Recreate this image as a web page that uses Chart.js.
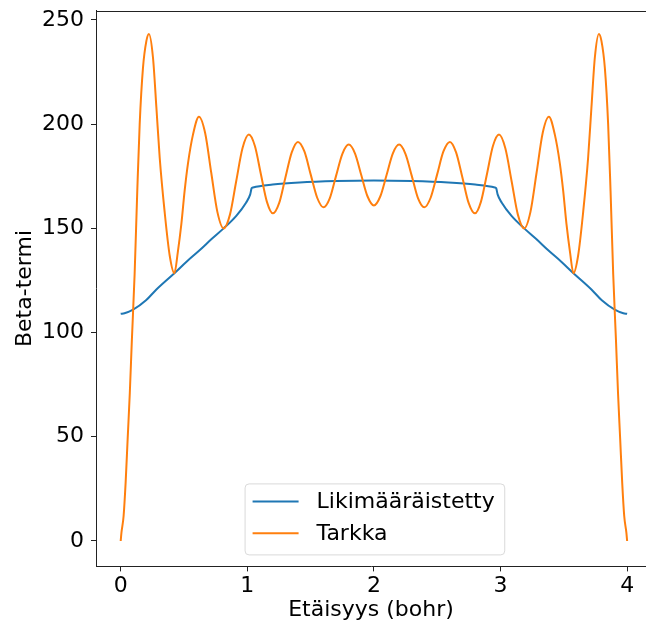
<!DOCTYPE html>
<html lang="fi">
<head>
<meta charset="UTF-8">
<title>Beta-termi</title>
<script src="https://cdn.jsdelivr.net/npm/chart.js"></script>
<style>
    html, body { margin: 0; padding: 0; background: #fff; overflow: hidden; }
</style>
</head>
<body>
<canvas id="myChart" width="646" height="630"></canvas>
<script>
// Likimääräistetty (blue)
const xApprox = [0.000, 0.030, 0.098, 0.200, 0.282, 0.424, 0.520, 0.623, 0.720, 0.813,
    0.913, 0.990, 1.023, 1.034, 1.045, 1.200, 1.412, 1.700, 2.000, 2.300,
    2.588, 2.800, 2.955, 2.966, 2.977, 3.010, 3.087, 3.187, 3.280, 3.377,
    3.480, 3.576, 3.718, 3.800, 3.902, 3.970, 4.000];
const yApprox = [109, 109.3, 111, 115.5, 120.7, 128.5, 134, 139.5, 145, 150,
    156, 162.3, 166.3, 169.2, 169.6, 171, 172, 172.7, 173, 172.7,
    172, 171, 169.6, 169.2, 166.3, 162.3, 156, 150, 145, 139.5,
    134, 128.5, 120.7, 115.5, 111, 109.3, 109];

// Tarkka (orange)
const xExact = [0.000, 0.006, 0.023, 0.039, 0.055, 0.072, 0.088, 0.110, 0.131, 0.150,
    0.176, 0.203, 0.223, 0.255, 0.282, 0.308, 0.347, 0.387, 0.424, 0.452,
    0.479, 0.505, 0.531, 0.571, 0.618, 0.667, 0.715, 0.764, 0.813, 0.863,
    0.912, 0.962, 1.012, 1.060, 1.107, 1.155, 1.202, 1.252, 1.301, 1.351,
    1.400, 1.451, 1.501, 1.552, 1.602, 1.652, 1.701, 1.751, 1.801, 1.851,
    1.900, 1.950, 2.000, 2.050, 2.100, 2.149, 2.199, 2.249, 2.299, 2.348,
    2.398, 2.448, 2.499, 2.549, 2.600, 2.649, 2.699, 2.748, 2.798, 2.845,
    2.893, 2.940, 2.988, 3.038, 3.088, 3.137, 3.187, 3.236, 3.285, 3.333,
    3.382, 3.429, 3.469, 3.495, 3.521, 3.548, 3.576, 3.613, 3.653, 3.692,
    3.718, 3.745, 3.777, 3.797, 3.824, 3.850, 3.869, 3.890, 3.912, 3.928,
    3.945, 3.961, 3.977, 3.994, 4.000];
const yExact = [0, 4, 12, 28, 49, 71, 96, 128, 168, 200,
    227, 240, 243.3, 232, 208, 184, 158, 137, 128.5, 139,
    152, 168, 181, 195, 203.6, 195.8, 176.8, 157.8, 150, 156.6,
    172.5, 188.4, 195, 189.5, 176.1, 162.7, 157.2, 162.2, 174.4, 186.5,
    191.5, 186.9, 175.8, 164.7, 160.1, 164.5, 175.2, 185.8, 190.2, 185.9,
    175.6, 165.3, 161, 165.3, 175.6, 185.9, 190.2, 185.8, 175.2, 164.5,
    160.1, 164.7, 175.8, 186.9, 191.5, 186.5, 174.4, 162.2, 157.2, 162.7,
    176.1, 189.5, 195, 188.4, 172.5, 156.6, 150, 157.8, 176.8, 195.8,
    203.6, 195, 181, 168, 152, 139, 128.5, 137, 158, 184,
    208, 232, 243.3, 240, 227, 200, 168, 128, 96, 71,
    49, 28, 12, 4, 0];

const seriesNames = ['Likimääräistetty', 'Tarkka'];
const xTicks = [0, 1, 2, 3, 4];
const yTicks = [0, 50, 100, 150, 200, 250];
const xTitle = 'Etäisyys (bohr)';
const yTitle = 'Beta-termi';

const FONT = 'DejaVu Sans';
const INK = '#222';

Chart.defaults.font.family = FONT;
Chart.defaults.color = '#000';

function toPoints(xs, ys) {
    return xs.map((x, i) => ({ x: x, y: ys[i] }));
}

// top spine (the right spine falls outside the picture)
const framePlugin = {
    id: 'frame',
    afterDraw(chart) {
        const { ctx, chartArea: a } = chart;
        ctx.save();
        ctx.strokeStyle = INK;
        ctx.lineWidth = 1;
        ctx.beginPath();
        const t = Math.round(a.top) + 0.5;
        ctx.moveTo(a.left, t);
        ctx.lineTo(a.right, t);
        ctx.stroke();
        ctx.restore();
    }
};

// matplotlib-like legend box inside the plot
const legendBox = {
    id: 'legendBox',
    afterDraw(chart) {
        const { ctx, chartArea: a } = chart;
        const sets = chart.data.datasets;
        const xs = chart.scales.x;
        ctx.save();
        ctx.font = '22px "' + FONT + '"';
        const textW = Math.max(...sets.map(d => ctx.measureText(d.label).width));
        const padL = 7.5, lineW = 46, gap = 18, padR = 10, rowH = 31.6, padT = 17.7;
        const w = padL + lineW + gap + textW + padR;
        const h = 71;
        const x0 = xs.getPixelForValue(2) + 1 - w / 2;
        const y0 = a.bottom - 11.5 - h;
        const rad = 4;
        ctx.beginPath();
        ctx.moveTo(x0 + rad, y0);
        ctx.lineTo(x0 + w - rad, y0);
        ctx.arcTo(x0 + w, y0, x0 + w, y0 + rad, rad);
        ctx.lineTo(x0 + w, y0 + h - rad);
        ctx.arcTo(x0 + w, y0 + h, x0 + w - rad, y0 + h, rad);
        ctx.lineTo(x0 + rad, y0 + h);
        ctx.arcTo(x0, y0 + h, x0, y0 + h - rad, rad);
        ctx.lineTo(x0, y0 + rad);
        ctx.arcTo(x0, y0, x0 + rad, y0, rad);
        ctx.closePath();
        ctx.fillStyle = 'rgba(255,255,255,0.8)';
        ctx.fill();
        ctx.strokeStyle = '#d9d9d9';
        ctx.lineWidth = 1;
        ctx.stroke();
        sets.forEach((d, i) => {
            const yy = y0 + padT + i * rowH;
            ctx.strokeStyle = d.borderColor;
            ctx.lineWidth = 2;
            ctx.beginPath();
            ctx.moveTo(x0 + padL, yy);
            ctx.lineTo(x0 + padL + lineW, yy);
            ctx.stroke();
            ctx.fillStyle = '#000';
            ctx.textAlign = 'left';
            ctx.textBaseline = 'middle';
            ctx.fillText(d.label, x0 + padL + lineW + gap, yy + 1);
        });
        ctx.restore();
    }
};

const ctx = document.getElementById('myChart').getContext('2d');
new Chart(ctx, {
    type: 'line',
    data: {
        datasets: [{
            label: seriesNames[0],
            data: toPoints(xApprox, yApprox),
            borderColor: '#1f77b4',
            borderWidth: 2,
            pointRadius: 0,
            cubicInterpolationMode: 'monotone',
            fill: false,
            order: 1
        }, {
            label: seriesNames[1],
            data: toPoints(xExact, yExact),
            borderColor: '#ff7f0e',
            borderWidth: 2,
            pointRadius: 0,
            cubicInterpolationMode: 'monotone',
            fill: false,
            order: 0
        }]
    },
    options: {
        responsive: false,
        animation: false,
        devicePixelRatio: 1,
        layout: { padding: { top: 10.6, right: 0, left: 0, bottom: 0 } },
        plugins: {
            legend: { display: false },
            tooltip: { enabled: false }
        },
        scales: {
            x: {
                type: 'linear',
                min: -0.195,
                max: 4.149,
                afterBuildTicks: s => { s.ticks = xTicks.map(v => ({ value: v })); },
                afterFit: s => { s.height = 63.6; s.paddingLeft = 0; s.paddingRight = 0; },
                ticks: { font: { size: 22 }, padding: 2, maxRotation: 0, color: '#000' },
                grid: { drawOnChartArea: false, tickLength: 5, tickColor: INK, tickWidth: 1 },
                border: { color: INK, width: 1 },
                title: { display: true, text: xTitle, font: { size: 22 }, color: '#000', padding: { top: 0, bottom: 6.8 } }
            },
            y: {
                min: -12.2,
                max: 254.5,
                afterBuildTicks: s => { s.ticks = yTicks.map(v => ({ value: v })); },
                afterFit: s => { s.width = 96; s.paddingTop = 0; s.paddingBottom = 0; },
                ticks: { font: { size: 22 }, padding: 7, color: '#000' },
                grid: { drawOnChartArea: false, tickLength: 5, tickColor: INK, tickWidth: 1 },
                border: { color: INK, width: 1 },
                title: { display: true, text: yTitle, font: { size: 22 }, color: '#000', padding: { top: 11.8, bottom: 0 } }
            }
        }
    },
    plugins: [framePlugin, legendBox]
});
</script>
</body>
</html>
